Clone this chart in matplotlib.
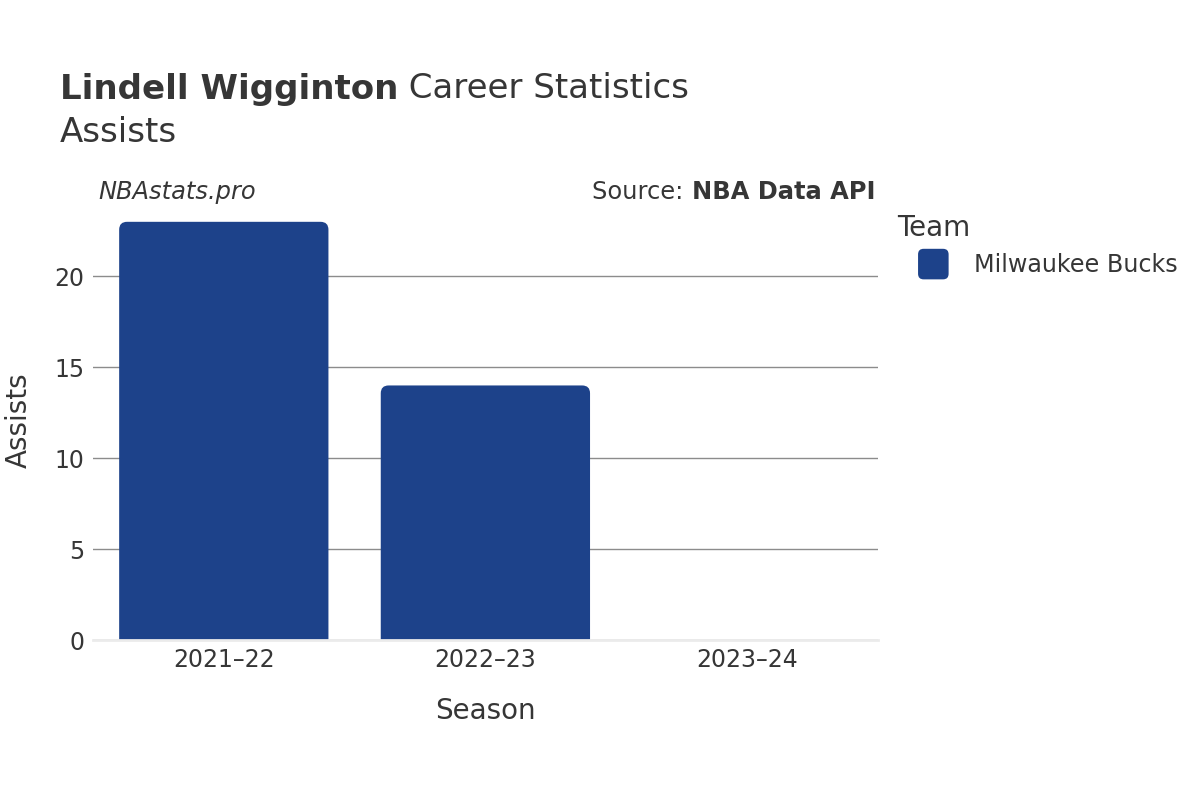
import numpy as np
import matplotlib
matplotlib.use("Agg")
import matplotlib.pyplot as plt
from matplotlib.patches import FancyBboxPatch
from matplotlib.legend_handler import HandlerPatch
from matplotlib.patches import Patch

player = "Lindell Wigginton"
stat = "Assists"
seasons = ["2021–22", "2022–23", "2023–24"]
assists = [23, 14, 0]
team = "Milwaukee Bucks"
team_color = "#1d428a"
text_color = "#363636"


class RoundHandler(HandlerPatch):
    def create_artists(self, legend, orig_handle, xdescent, ydescent,
                       width, height, fontsize, trans):
        s = 22
        cx = -xdescent + width / 2
        cy = -ydescent + height / 2
        p = FancyBboxPatch((cx - s / 2, cy - s / 2), s, s,
                           boxstyle="round,pad=0,rounding_size=4",
                           facecolor=team_color, edgecolor="none",
                           transform=trans)
        return [p]


def main():
    fig = plt.figure(figsize=(12, 8), dpi=100)
    ax = fig.add_axes([0.0775, 0.2, 0.654, 0.55])
    x = np.arange(len(seasons))
    bars = ax.bar(x, assists, width=0.8, color=team_color)
    ax.set_xlim(-0.5, 2.5)
    ax.set_ylim(0, 24.2)

    # swap plain bars for rounded ones
    aspect = (24.2 / 440) / (3.0 / 785)
    for b in bars:
        b.set_visible(False)
        if b.get_height() <= 0:
            continue
        rb = FancyBboxPatch((b.get_x(), -1), b.get_width(), b.get_height() + 1,
                            boxstyle="round,pad=0,rounding_size=0.03",
                            mutation_aspect=aspect, facecolor=team_color,
                            edgecolor="none", clip_on=True, zorder=2)
        ax.add_patch(rb)

    ax.set_yticks([0, 5, 10, 15, 20])
    ax.set_xticks(x)
    ax.set_xticklabels(seasons)
    ax.grid(axis="y", color="#8c8c8c", linewidth=1)
    ax.set_axisbelow(True)
    for s in ["top", "right", "left"]:
        ax.spines[s].set_visible(False)
    ax.spines["bottom"].set_color("#ebebeb")
    ax.spines["bottom"].set_linewidth(2)
    ax.tick_params(axis="both", length=0, labelsize=17, labelcolor=text_color, pad=6)
    ax.set_xlabel("Season", fontsize=20, color=text_color, labelpad=18)
    ax.set_ylabel("Assists", fontsize=20, color=text_color)
    ax.yaxis.set_label_coords(-60 / 785, 0.5)

    fig.canvas.draw()
    r = fig.canvas.get_renderer()
    inv = fig.transFigure.inverted()

    t1 = fig.text(0.05, 1 - 89 / 800, player, fontsize=24.5, fontweight="bold",
                  color=text_color, va="center")
    w = t1.get_window_extent(r)
    fig.text(inv.transform((w.x1, 0))[0], 1 - 89 / 800, " Career Statistics",
             fontsize=24.5, color=text_color, va="center")
    fig.text(0.05, 1 - 132 / 800, stat, fontsize=24.5, color=text_color, va="center")

    fig.text(98 / 1200, 1 - 192 / 800, "NBAstats.pro", fontsize=17.4, style="italic",
             color=text_color, va="center")
    t2 = fig.text(875 / 1200, 1 - 192 / 800, "NBA Data API", fontsize=17.4,
                  fontweight="bold", color=text_color, va="center", ha="right")
    w2 = t2.get_window_extent(r)
    fig.text(inv.transform((w2.x0, 0))[0], 1 - 192 / 800, "Source: ", fontsize=17.4,
             color=text_color, va="center", ha="right")

    leg = fig.legend([Patch(color=team_color)], [team], loc="upper left",
                     bbox_to_anchor=(876 / 1200, 1 - 192 / 800), frameon=False,
                     title="Team", fontsize=17.2, title_fontsize=20,
                     handletextpad=0.2, handlelength=3.0, labelcolor=text_color,
                     handler_map={Patch: RoundHandler()})
    leg.get_title().set_color(text_color)
    leg._legend_box.align = "left"

    fig.savefig("out.png", dpi=100, facecolor="white")


if __name__ == "__main__":
    main()
